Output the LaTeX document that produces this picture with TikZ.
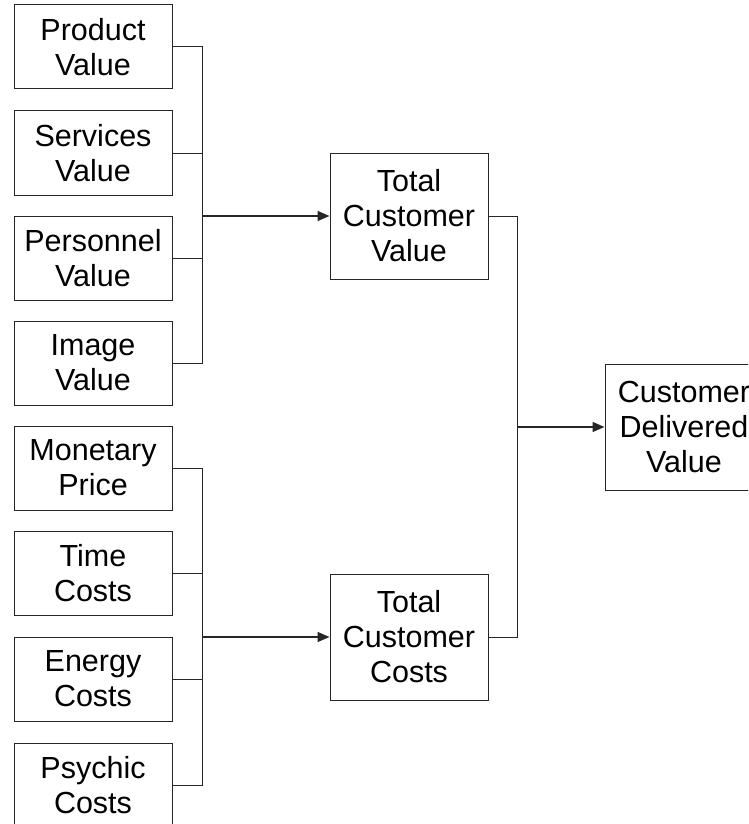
\documentclass[tikz,border=0pt]{standalone}
\usepackage{fontspec}
\setmainfont{Liberation Sans}
\usetikzlibrary{arrows.meta}
\begin{document}
\begin{tikzpicture}[x=1pt,y=-1pt,
  box/.style={draw=black!85,line width=1pt,minimum width=158pt,minimum height=84pt,inner sep=0pt,align=center,font=\fontsize{30.5}{35}\selectfont},
  bigbox/.style={box,minimum height=126pt},
  link/.style={draw=black!85,line width=1pt},
  arr/.style={link,line width=1.4pt,-{Triangle[length=12pt,width=10pt]}}]
\useasboundingbox (0,0) rectangle (748,824);
\clip (0,0) rectangle (748,824);
\node[box] (b1) at (93,47) {Product\\Value};
\node[box] (b2) at (93,153) {Services\\Value};
\node[box] (b3) at (93,258) {Personnel\\Value};
\node[box] (b4) at (93,363) {Image\\Value};
\node[box] (b5) at (93,468) {Monetary\\Price};
\node[box] (b6) at (93,573) {Time\\Costs};
\node[box] (b7) at (93,679) {Energy\\Costs};
\node[box] (b8) at (93,785) {Psychic\\Costs};
\node[bigbox] (tcv) at (409,216) {Total\\Customer\\Value};
\node[bigbox] (tcc) at (409,637) {Total\\Customer\\Costs};
\node[bigbox] (cdv) at (684,427) {Customer\\Delivered\\Value};
\coordinate (jv) at (202,216);
\coordinate (jc) at (202,637);
\coordinate (jd) at (517,427);
\foreach \b in {b1,b2,b3,b4} \draw[link] (\b.east) -| (jv);
\foreach \b in {b5,b6,b7,b8} \draw[link] (\b.east) -| (jc);
\draw[arr] (jv) -- (tcv.west);
\draw[arr] (jc) -- (tcc.west);
\draw[link] (tcv.east) -| (jd);
\draw[link] (tcc.east) -| (jd);
\draw[arr] (jd) -- (cdv.west);
\end{tikzpicture}
\end{document}
